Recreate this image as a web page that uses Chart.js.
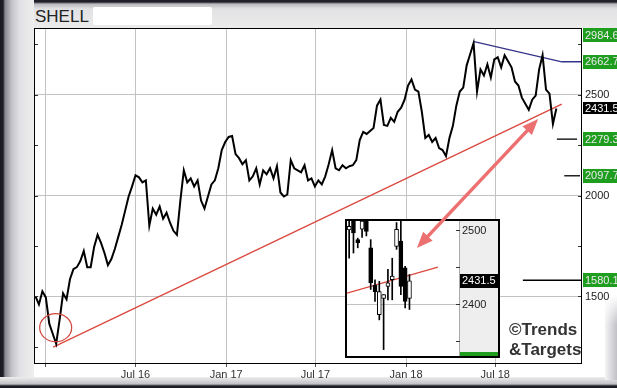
<!DOCTYPE html>
<html><head><meta charset="utf-8">
<script src="https://cdn.jsdelivr.net/npm/chart.js@4.4.1/dist/chart.umd.min.js"></script>
<style>
html,body{margin:0;padding:0;}
body{width:617px;height:388px;overflow:hidden;position:relative;background:#ececec;font-family:"Liberation Sans",Arial,sans-serif;}
.abs{position:absolute;}
#topband{left:0;top:0;width:617px;height:30px;background:linear-gradient(to bottom,#20202a 0,#20202a 2px,#b9b9be 4px,#e2e2e4 9px,#ececec 30px);}
#leftbev{left:0;top:0;width:34px;height:388px;background:linear-gradient(to right,#1b1b26 0,#1b1b26 3px,#86868f 5px,#c4c4ca 12px,#e2e2e5 20px,#eeeeee 34px);}
#white{left:34px;top:28px;width:583px;height:349px;background:#fff;}
#botband{left:0;top:377px;width:617px;height:11px;background:linear-gradient(to bottom,#eeeeee 0,#c2c2c6 7px,#1b1b26 9px,#1b1b26 11px);}
#rbev{left:605px;top:295px;width:12px;height:85px;background:linear-gradient(to right,#f4f4f4,#c0c0c6);-webkit-mask-image:linear-gradient(to bottom,transparent 0,#000 30px);mask-image:linear-gradient(to bottom,transparent 0,#000 30px);}
#title{left:35px;top:8px;font-size:17px;line-height:17px;color:#222;}
#redact{left:93px;top:7px;width:119px;height:18px;background:#fff;border-radius:2px;}
#main{left:0;top:0;}
#inset{left:345px;top:219px;width:155px;height:139px;box-sizing:border-box;border:2px solid #000;background:#fff;}
#insetc{display:block;}
#overlay{left:0;top:0;pointer-events:none;}
#wm{left:509px;top:320px;font-size:17px;line-height:20px;font-weight:bold;color:#333;}
</style>
</head><body>
<div class="abs" id="topband"></div>
<div class="abs" id="leftbev"></div>
<div class="abs" id="white"></div>
<div class="abs" id="botband"></div>
<div class="abs" id="rbev"></div>
<div class="abs" id="title">SHELL</div>
<div class="abs" id="redact"></div>
<canvas class="abs" id="main" width="617" height="388"></canvas>
<div class="abs" id="wm">©Trends<br>&amp;Targets</div>
<div class="abs" id="inset"><canvas id="insetc" width="151" height="135"></canvas></div>
<canvas class="abs" id="overlay" width="617" height="388"></canvas>
<script>
// ---- main chart data (weekly closes, first week = 11 Dec 2015; x in days from 1 Jan 2016) ----
const weekStartDay = -21;
const closes = [
 1500,1460,1525,1495,1365,1315,1265,1385,1515,1485,
 1585,1635,1645,1675,1725,1645,1645,1745,1805,1765,
 1715,1655,1685,1735,1795,1855,1925,1995,2045,2100,
 2090,2065,2075,1850,1935,1905,1945,1885,1915,1865,
 1825,1805,1975,2125,2065,2085,2045,2075,1975,1935,
 1995,2055,2075,2135,2225,2265,2290,2295,2205,2185,
 2155,2175,2075,2095,2135,2055,2125,2105,2135,2085,
 2145,2015,1995,2005,2175,2135,2125,2115,2150,2075,
 2085,2045,2075,2055,2095,2155,2225,2135,2125,2150,
 2135,2145,2150,2175,2275,2315,2305,2320,2335,2445,
 2475,2350,2345,2385,2365,2415,2435,2475,2545,2575,
 2525,2515,2415,2285,2300,2265,2285,2235,2225,2195,
 2285,2345,2445,2515,2535,2645,2700,2755,2515,2625,
 2595,2650,2585,2675,2685,2635,2695,2665,2635,2565,
 2545,2485,2455,2425,2475,2495,2625,2695,2525,2505,
 2355,2431.5
];
const tickDays   = [0, 182, 366, 547, 731, 912];
const tickLabels = ['', 'Jul 16', 'Jan 17', 'Jul 17', 'Jan 18', 'Jul 18'];
const yGridValues  = [1500, 2000, 2500];
const yMinorValues = [1250, 1500, 1750, 2000, 2250, 2500, 2750];
const redTrend   = [[15, 1249], [1047, 2453]];
const blueTrend  = [[869, 2762], [1047, 2662.7], [1090, 2662.7]];
const targetLines = [[2279.3, 1037, 1078], [2097.7, 1052, 1084], [1580.1, 968, 1090]];
const rightLabels = [
  [2984.6, '2984.6', 'target'], [2662.7, '2662.7', 'target'], [2500, '2500', 'plain'],
  [2431.5, '2431.5', 'last'], [2279.3, '2279.3', 'target'], [2097.7, '2097.7', 'target'],
  [2000, '2000', 'plain'], [1580.1, '1580.1', 'target'], [1500, '1500', 'plain']
];
const circleMark = [20, 1345];
const arrowEnds = [[753, 1740], [999, 2379]];

// ---- inset data (last 15 daily candles) ----
const candleOpen  = [2500,2512,2487,2501,2512,2476,2426,2386,2408,2424,2433,2478,2485,2449,2408];
const candleHigh  = [2516,2518,2489,2516,2516,2487,2433,2431,2413,2447,2462,2510,2514,2451,2440];
const candleLow   = [2462,2469,2476,2490,2492,2420,2404,2379,2339,2406,2406,2474,2413,2395,2393];
const candleClose = [2505,2496,2483,2512,2498,2429,2417,2417,2413,2429,2438,2501,2424,2404,2431.5];
const insetRed = [[-0.5, 2415], [20.6, 2450]];
const insetLabels = [[2500, '2500', 'plain'], [2431.5, '2431.5', 'last'], [2400, '2400', 'plain']];
const insetMinor = [2350, 2400, 2450, 2500];

const FONT = '"Liberation Sans", Arial, sans-serif';
const GREEN = '#1f9d1f';
const GRID = '#c2c2c2';

function drawArrow(ctx, x1, y1, x2, y2) {
  const a = Math.atan2(y2 - y1, x2 - x1);
  const hl = 16, hw = 6.5;
  ctx.save();
  ctx.strokeStyle = ctx.fillStyle = 'rgb(236,112,112)';
  ctx.lineWidth = 3.5;
  ctx.beginPath();
  ctx.moveTo(x1 + Math.cos(a) * hl * 0.8, y1 + Math.sin(a) * hl * 0.8);
  ctx.lineTo(x2 - Math.cos(a) * hl * 0.8, y2 - Math.sin(a) * hl * 0.8);
  ctx.stroke();
  for (const [tx, ty, b] of [[x2, y2, a], [x1, y1, a + Math.PI]]) {
    ctx.beginPath();
    ctx.moveTo(tx, ty);
    ctx.lineTo(tx - Math.cos(b) * hl + Math.sin(b) * hw, ty - Math.sin(b) * hl - Math.cos(b) * hw);
    ctx.lineTo(tx - Math.cos(b) * hl - Math.sin(b) * hw, ty - Math.sin(b) * hl + Math.cos(b) * hw);
    ctx.closePath();
    ctx.fill();
  }
  ctx.restore();
}

const mainPlugin = {
  id: 'mainDecor',
  afterDraw(chart) {
    const ctx = chart.ctx, a = chart.chartArea, xs = chart.scales.x, ys = chart.scales.y;
    ctx.save();
    ctx.strokeStyle = '#333'; ctx.lineWidth = 1;
    for (const v of yMinorValues) {
      const y = Math.round(ys.getPixelForValue(v)) + 0.5;
      ctx.beginPath(); ctx.moveTo(a.left, y); ctx.lineTo(a.left + 4, y);
      ctx.moveTo(a.right - 4, y); ctx.lineTo(a.right, y); ctx.stroke();
    }
    ctx.strokeStyle = '#000'; ctx.lineWidth = 1;
    ctx.strokeRect(a.left + 0.5, a.top + 0.5, a.right - a.left - 1, a.bottom - a.top);
    ctx.strokeStyle = 'rgb(205,70,60)'; ctx.lineWidth = 1.2;
    ctx.beginPath();
    ctx.ellipse(xs.getPixelForValue(circleMark[0]), ys.getPixelForValue(circleMark[1]), 16, 14, 0, 0, Math.PI * 2);
    ctx.stroke();
    ctx.font = '11px ' + FONT; ctx.textBaseline = 'middle'; ctx.textAlign = 'left';
    for (const [v, t, kind] of rightLabels) {
      let y = ys.getPixelForValue(v);
      y = Math.max(a.top + 7, Math.min(a.bottom - 7, y));
      if (kind === 'target') {
        ctx.fillStyle = GREEN; ctx.fillRect(a.right + 1, Math.round(y - 7), 40, 14);
        ctx.fillStyle = '#eaeaea';
      } else if (kind === 'last') {
        ctx.fillStyle = '#000'; ctx.fillRect(a.right + 1, Math.round(y - 6), 40, 12);
        ctx.fillStyle = '#fff';
      } else {
        ctx.fillStyle = '#222';
      }
      ctx.fillText(t, a.right + 3, y + 0.5);
    }
    ctx.restore();
    const octx = document.getElementById('overlay').getContext('2d');
    octx.clearRect(0, 0, 617, 388);
    drawArrow(octx, xs.getPixelForValue(arrowEnds[0][0]), ys.getPixelForValue(arrowEnds[0][1]),
      xs.getPixelForValue(arrowEnds[1][0]), ys.getPixelForValue(arrowEnds[1][1]));
  }
};

const lineDs = (pts, color, w) => ({
  type: 'line', data: pts.map(p => ({x: p[0], y: p[1]})), borderColor: color, borderWidth: w,
  pointRadius: 0, tension: 0, fill: false
});

new Chart(document.getElementById('main'), {
  type: 'line',
  data: {
    datasets: [
      { data: closes.map((c, i) => ({x: weekStartDay + 7 * i, y: c})), borderColor: '#000', borderWidth: 2,
        pointRadius: 0, tension: 0, fill: false, borderJoinStyle: 'miter' },
      lineDs(redTrend, 'rgb(218,72,62)', 1.3),
      lineDs(blueTrend, 'rgb(52,52,140)', 1.3),
      ...targetLines.map(t => lineDs([[t[1], t[0]], [t[2], t[0]]], '#000', 1.3))
    ]
  },
  options: {
    responsive: false, animation: false, events: [], devicePixelRatio: 1,
    layout: { padding: { left: 34, top: 28, right: 0, bottom: 0 } },
    plugins: { legend: { display: false }, tooltip: { enabled: false } },
    scales: {
      x: {
        type: 'linear', min: -24, max: 1088,
        afterBuildTicks: s => { s.ticks = tickDays.map(v => ({value: v})); },
        afterFit: s => { s.height = 25; },
        grid: { color: GRID, lineWidth: 1, tickLength: 4, tickColor: '#555' },
        border: { display: false },
        ticks: { autoSkip: false, maxRotation: 0, padding: 1, color: '#333',
          font: { size: 11, family: FONT }, callback: (v, i) => tickLabels[i] }
      },
      y: {
        type: 'linear', position: 'right', min: 1170, max: 2830,
        afterBuildTicks: s => { s.ticks = yGridValues.map(v => ({value: v})); },
        afterFit: s => { s.width = 35; },
        grid: { color: GRID, lineWidth: 1, drawTicks: false },
        border: { display: false },
        ticks: { display: false }
      }
    }
  },
  plugins: [mainPlugin]
});

const insetPlugin = {
  id: 'insetDecor',
  beforeDraw(chart) {
    const ctx = chart.ctx, a = chart.chartArea;
    ctx.save();
    ctx.fillStyle = '#fff'; ctx.fillRect(0, 0, chart.width, chart.height);
    ctx.fillStyle = '#eeeeee'; ctx.fillRect(a.right, 0, chart.width - a.right, chart.height);
    ctx.restore();
  },
  afterDraw(chart) {
    const ctx = chart.ctx, a = chart.chartArea, ys = chart.scales.y;
    ctx.save();
    ctx.strokeStyle = '#aaa'; ctx.lineWidth = 1;
    ctx.beginPath(); ctx.moveTo(a.right + 0.5, 0); ctx.lineTo(a.right + 0.5, chart.height); ctx.stroke();
    ctx.strokeStyle = '#333';
    for (const v of insetMinor) {
      const y = Math.round(ys.getPixelForValue(v)) + 0.5;
      ctx.beginPath(); ctx.moveTo(a.right - 3, y); ctx.lineTo(a.right + 1, y); ctx.stroke();
    }
    ctx.font = '11px ' + FONT; ctx.textBaseline = 'middle';
    for (const [v, t, kind] of insetLabels) {
      const y = ys.getPixelForValue(v);
      if (kind === 'last') {
        ctx.fillStyle = '#000'; ctx.fillRect(a.right + 1, Math.round(y - 7), chart.width - a.right, 14);
        ctx.fillStyle = '#fff';
      } else ctx.fillStyle = '#222';
      ctx.fillText(t, a.right + 3, y + 0.5);
    }
    ctx.fillStyle = GREEN; ctx.fillRect(a.right + 1, chart.height - 4, chart.width - a.right, 4);
    ctx.restore();
  }
};

new Chart(document.getElementById('insetc'), {
  type: 'bar',
  data: {
    datasets: [
      { type: 'bar', grouped: false, barThickness: 4, borderWidth: 1, borderColor: '#000', borderSkipped: false,
        data: candleOpen.map((o, i) => ({x: i, y: [Math.min(o, candleClose[i]), Math.max(o, candleClose[i]) + 0.01]})),
        backgroundColor: candleOpen.map((o, i) => candleClose[i] >= o ? '#fff' : '#000') },
      { type: 'bar', grouped: false, barThickness: 1, backgroundColor: '#000', borderWidth: 0,
        data: candleLow.map((l, i) => ({x: i, y: [l, candleHigh[i]]})) },
      { type: 'line', data: insetRed.map(p => ({x: p[0], y: p[1]})), borderColor: 'rgb(218,72,62)',
        borderWidth: 1.3, pointRadius: 0, tension: 0, fill: false }
    ]
  },
  options: {
    responsive: false, animation: false, events: [], devicePixelRatio: 1,
    layout: { padding: 0 },
    plugins: { legend: { display: false }, tooltip: { enabled: false } },
    scales: {
      x: {
        type: 'linear', min: -0.5, max: 25.5, offset: false,
        afterBuildTicks: s => { s.ticks = [{value: 12}]; },
        afterFit: s => { s.height = 0; },
        grid: { color: GRID, drawTicks: false }, border: { display: false }, ticks: { display: false }
      },
      y: {
        type: 'linear', position: 'right', min: 2330.4, max: 2512.1,
        afterBuildTicks: s => { s.ticks = [{value: 2400}]; },
        afterFit: s => { s.width = 39; },
        grid: { color: GRID, drawTicks: false }, border: { display: false }, ticks: { display: false }
      }
    }
  },
  plugins: [insetPlugin]
});
</script>
</body></html>
